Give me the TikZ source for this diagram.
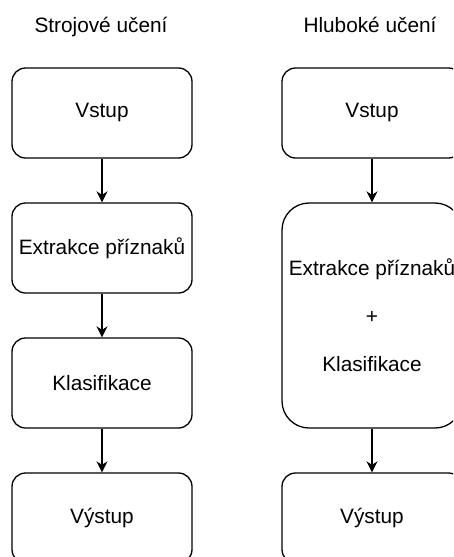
\documentclass[tikz,border=0pt]{standalone}
\usepackage{fontspec}
\setmainfont{Liberation Sans}
\usetikzlibrary{arrows.meta}

\tikzset{
  stage/.style={draw, line width=1.3pt, rounded corners=13.5pt,
    minimum width=180pt, minimum height=90pt, inner sep=0pt,
    font=\fontsize{20.8}{25}\selectfont, align=center},
  bigstage/.style={stage, rounded corners=27pt, minimum height=225pt,
    font=\fontsize{20.8}{48}\selectfont},
  heading/.style={anchor=base, font=\fontsize{20.8}{25}\selectfont},
  flow/.style={line width=1.5pt,
    -{Stealth[length=11pt,width=11pt,inset=3.5pt]}}
}

\begin{document}
\begin{tikzpicture}[x=1pt,y=-1pt]
  \clip (0,0) rectangle (453,557);
  \fill[white] (0,0) rectangle (453,557);

  % column headings
  \node[heading] (hml) at (101,32.3) {Strojové učení};
  \node[heading] (hdl) at (370,32.3) {Hluboké učení};

  % classical machine learning pipeline
  \node[stage] (l1) at (102,113) {Vstup};
  \node[stage] (l2) at (102,248) {Extrakce příznaků};
  \node[stage] (l3) at (102,383) {Klasifikace};
  \node[stage] (l4) at (102,518) {Výstup};

  % deep learning pipeline
  \node[stage] (r1) at (372,113) {Vstup};
  \node[bigstage] (r2) at (372,315.5) {Extrakce příznaků\\+\\Klasifikace};
  \node[stage] (r4) at (372,518) {Výstup};

  \draw[flow] (l1) -- (l2);
  \draw[flow] (l2) -- (l3);
  \draw[flow] (l3) -- (l4);
  \draw[flow] (r1) -- (r2);
  \draw[flow] (r2) -- (r4);
\end{tikzpicture}
\end{document}
